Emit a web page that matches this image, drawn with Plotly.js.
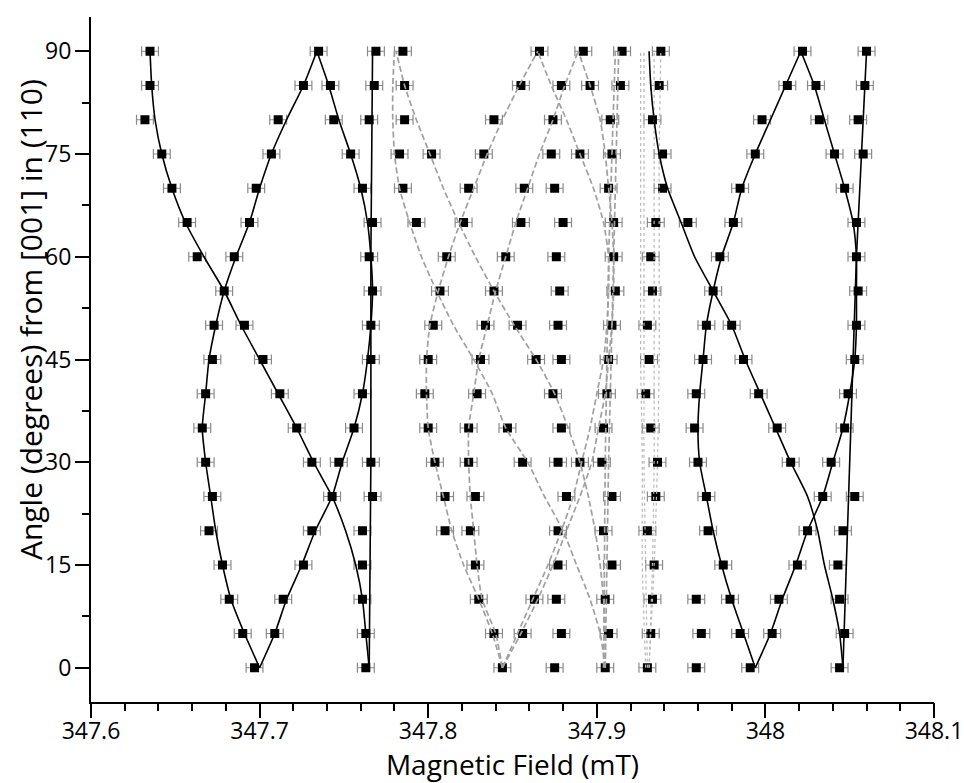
<!DOCTYPE html>
<html>
<head>
<meta charset="utf-8">
<script src="https://cdn.plot.ly/plotly-3.0.1.min.js"></script>
<style>html,body{margin:0;padding:0;background:#fff;}#chart{width:964px;height:783px;}</style>
</head>
<body>
<div id="chart"></div>
<script>
// ---- measured points (magnetic field in mT) for each rotation angle ----
const field0  = [347.697, 347.763, 347.844, 347.875, 347.905, 347.930, 347.959, 347.991, 348.044];
const field5  = [347.690, 347.709, 347.763, 347.839, 347.856, 347.879, 347.907, 347.932, 347.962, 347.985, 348.004, 348.047];
const field10 = [347.682, 347.714, 347.761, 347.830, 347.863, 347.876, 347.905, 347.933, 347.959, 347.979, 348.008, 348.044];
const field15 = [347.678, 347.726, 347.761, 347.828, 347.877, 347.909, 347.934, 347.975, 348.019, 348.043];
const field20 = [347.670, 347.731, 347.761, 347.810, 347.825, 347.877, 347.904, 347.930, 347.966, 348.025, 348.046];
const field25 = [347.672, 347.743, 347.767, 347.810, 347.828, 347.882, 347.909, 347.935, 347.965, 348.034, 348.053];
const field30 = [347.668, 347.731, 347.747, 347.766, 347.804, 347.824, 347.856, 347.877, 347.890, 347.903, 347.936, 347.960, 348.015, 348.039];
const field35 = [347.666, 347.722, 347.756, 347.800, 347.824, 347.847, 347.879, 347.904, 347.932, 347.958, 348.007, 348.047];
const field40 = [347.668, 347.712, 347.761, 347.798, 347.829, 347.874, 347.906, 347.929, 347.959, 347.996, 348.049];
const field45 = [347.672, 347.702, 347.766, 347.800, 347.831, 347.864, 347.879, 347.907, 347.931, 347.963, 347.987, 348.053];
const field50 = [347.673, 347.691, 347.766, 347.803, 347.834, 347.853, 347.877, 347.909, 347.930, 347.965, 347.980, 348.054];
const field55 = [347.679, 347.767, 347.807, 347.839, 347.878, 347.911, 347.933, 347.969, 348.055];
const field60 = [347.663, 347.685, 347.765, 347.811, 347.846, 347.876, 347.910, 347.932, 347.973, 348.054];
const field65 = [347.657, 347.694, 347.767, 347.793, 347.821, 347.855, 347.880, 347.910, 347.935, 347.954, 347.981, 348.054];
const field70 = [347.648, 347.698, 347.761, 347.785, 347.824, 347.857, 347.875, 347.907, 347.939, 347.985, 348.047];
const field75 = [347.642, 347.707, 347.754, 347.783, 347.802, 347.833, 347.873, 347.890, 347.909, 347.939, 347.994, 348.041, 348.058];
const field80 = [347.632, 347.711, 347.744, 347.765, 347.786, 347.839, 347.874, 347.908, 347.933, 347.998, 348.032, 348.055];
const field85 = [347.635, 347.726, 347.742, 347.768, 347.786, 347.855, 347.879, 347.896, 347.914, 347.937, 348.013, 348.030, 348.059];
const field90 = [347.635, 347.735, 347.769, 347.785, 347.866, 347.892, 347.915, 347.938, 348.022, 348.060];
const pointAngles = [0, 5, 10, 15, 20, 25, 30, 35, 40, 45, 50, 55, 60, 65, 70, 75, 80, 85, 90];
const fieldError = 0.005;

// ---- simulated branches (field in mT at curveAngles) ----
const curveAngles = [0, 5, 10, 15, 20, 25, 30, 35, 40, 45, 50, 55, 60, 65, 70, 75, 80, 85, 90];
const alphaL = [347.700, 347.709, 347.716, 347.725, 347.733, 347.743, 347.749, 347.756, 347.761, 347.764, 347.766, 347.767, 347.766, 347.764, 347.760, 347.754, 347.747, 347.741, 347.734];
const gammaL = [347.700, 347.691, 347.683, 347.678, 347.674, 347.671, 347.668, 347.666, 347.668, 347.670, 347.674, 347.679, 347.686, 347.694, 347.700, 347.707, 347.716, 347.726, 347.734];
const betaL  = [347.765, 347.763, 347.761, 347.757, 347.751, 347.743, 347.732, 347.722, 347.711, 347.700, 347.689, 347.679, 347.667, 347.656, 347.648, 347.642, 347.638, 347.636, 347.635];
const alphaR = [347.994, 348.003, 348.010, 348.018, 348.025, 348.034, 348.040, 348.046, 348.050, 348.053, 348.054, 348.054, 348.054, 348.052, 348.047, 348.041, 348.035, 348.029, 348.021];
const gammaR = [347.994, 347.987, 347.980, 347.974, 347.969, 347.965, 347.961, 347.960, 347.961, 347.963, 347.965, 347.969, 347.974, 347.981, 347.986, 347.994, 348.003, 348.012, 348.021];
const betaR  = [348.046, 348.044, 348.040, 348.035, 348.031, 348.025, 348.015, 348.006, 347.997, 347.988, 347.980, 347.969, 347.958, 347.950, 347.942, 347.937, 347.934, 347.932, 347.931];
const gammaA = [347.844, 347.838, 347.830, 347.821, 347.814, 347.809, 347.804, 347.800, 347.799, 347.799, 347.801, 347.806, 347.812, 347.819, 347.827, 347.835, 347.844, 347.854, 347.865];
const gammaB = [347.844, 347.840, 347.832, 347.829, 347.827, 347.825, 347.824, 347.824, 347.827, 347.830, 347.835, 347.840, 347.846, 347.852, 347.859, 347.866, 347.874, 347.881, 347.889];
const alphaA = [347.844, 347.853, 347.862, 347.871, 347.879, 347.886, 347.891, 347.896, 347.900, 347.904, 347.906, 347.907, 347.907, 347.904, 347.898, 347.890, 347.882, 347.873, 347.865];
const alphaB = [347.844, 347.855, 347.865, 347.874, 347.882, 347.890, 347.897, 347.901, 347.905, 347.907, 347.909, 347.910, 347.910, 347.909, 347.907, 347.905, 347.902, 347.896, 347.889];
const betaA  = [347.905, 347.905, 347.904, 347.902, 347.899, 347.895, 347.890, 347.883, 347.875, 347.864, 347.851, 347.839, 347.828, 347.818, 347.809, 347.801, 347.793, 347.786, 347.781];
const betaB  = [347.905, 347.902, 347.896, 347.888, 347.880, 347.869, 347.859, 347.846, 347.838, 347.827, 347.815, 347.805, 347.796, 347.789, 347.783, 347.780, 347.779, 347.779, 347.780];
const vertAngles = [0, 30, 60, 90];
const deltaL = [347.765, 347.766, 347.766, 347.767];
const deltaR = [348.046, 348.050, 348.054, 348.060];
const deltaA = [347.905, 347.907, 347.910, 347.913];
const deltaB = [347.904, 347.905, 347.907, 347.911];
const dotAngles = [0, 15, 30, 45, 60, 75, 90];
const dot1 = [347.929, 347.927, 347.927, 347.926, 347.926, 347.926, 347.926];
const dot2 = [347.930, 347.929, 347.928, 347.928, 347.928, 347.928, 347.928];
const dot3 = [347.931, 347.933, 347.934, 347.934, 347.934, 347.934, 347.934];
const dot4 = [347.931, 347.934, 347.936, 347.937, 347.937, 347.937, 347.938];

// ---- axes ----
const xTickVals = [347.6, 347.7, 347.8, 347.9, 348.0, 348.1];
const xTickText = ['347.6', '347.7', '347.8', '347.9', '348', '348.1'];
const yTickVals = [0, 15, 30, 45, 60, 75, 90];
const yTickText = ['0', '15', '30', '45', '60', '75', '90'];
const xRange = [347.6, 348.1];
const yRange = [-5, 95];
const xMinorStep = 0.02;
const yMinorStep = 7.5;

const xMinor = [];
for (let i = 0; i <= 25; i++) xMinor.push(+(xRange[0] + i * xMinorStep).toFixed(3));
const yMinor = [];
for (let v = 0; v <= 90; v += yMinorStep) yMinor.push(v);

const rows = [field0, field5, field10, field15, field20, field25, field30, field35, field40, field45,
              field50, field55, field60, field65, field70, field75, field80, field85, field90];
const px = [], py = [];
rows.forEach((r, i) => r.forEach(v => { px.push(v); py.push(pointAngles[i]); }));

const traces = [
  {x: [], y: [], xaxis: 'x2', yaxis: 'y2', type: 'scatter', mode: 'markers', hoverinfo: 'none'},
  {
    x: px, y: py, type: 'scatter', mode: 'markers',
    marker: {symbol: 'square', size: 9, color: '#000'},
    error_x: {type: 'constant', value: fieldError, color: '#8a8a8a', thickness: 1.2, width: 5},
    hoverinfo: 'none'
  }
];
function line(xs, ys, color, width, dash, shape) {
  traces.push({x: xs, y: ys, type: 'scatter', mode: 'lines',
    line: {color: color, width: width, dash: dash, shape: shape || 'spline', smoothing: 0.6}, hoverinfo: 'none'});
}
[gammaA, gammaB, alphaA, alphaB, betaA, betaB].forEach(c => line(c, curveAngles, '#a0a0a0', 1.7, '6px,3px'));
[deltaA, deltaB].forEach(c => line(c, vertAngles, '#a0a0a0', 1.7, '6px,3px', 'linear'));
[dot1, dot2, dot3, dot4].forEach(c => line(c, dotAngles, '#b8b8b8', 1.2, 'dot'));
[alphaL, gammaL, betaL, alphaR, gammaR, betaR].forEach(c => line(c, curveAngles, '#000', 1.6, 'solid'));
[deltaL, deltaR].forEach(c => line(c, vertAngles, '#000', 1.6, 'solid', 'linear'));

const layout = {
  width: 964, height: 783,
  margin: {l: 91, r: 30, t: 17, b: 81},
  paper_bgcolor: '#fff', plot_bgcolor: '#fff', showlegend: false,
  font: {family: 'Open Sans, sans-serif', color: '#000'},
  xaxis: {
    range: xRange, tickmode: 'array', tickvals: xTickVals, ticktext: xTickText,
    showline: true, linewidth: 2, linecolor: '#000',
    ticks: 'outside', ticklen: 14, tickwidth: 2, tickcolor: '#000', ticklabelstandoff: -7,
    showgrid: false, zeroline: false, tickfont: {size: 23, color: '#000'},
    title: {text: 'Magnetic Field (mT)', font: {size: 28, color: '#000'}, standoff: 5}
  },
  yaxis: {
    range: yRange, tickmode: 'array', tickvals: yTickVals, ticktext: yTickText,
    showline: true, linewidth: 2, linecolor: '#000',
    ticks: 'outside', ticklen: 14, tickwidth: 2, tickcolor: '#000', ticklabelstandoff: -1,
    showgrid: false, zeroline: false, tickfont: {size: 23, color: '#000'}
  },
  xaxis2: {
    range: xRange, overlaying: 'x', anchor: 'y2', side: 'bottom', tickmode: 'array', tickvals: xMinor,
    showticklabels: false, ticks: 'outside', ticklen: 8, tickwidth: 2, tickcolor: '#000',
    showline: false, showgrid: false, zeroline: false
  },
  yaxis2: {
    range: yRange, overlaying: 'y', anchor: 'x2', side: 'left', tickmode: 'array', tickvals: yMinor,
    showticklabels: false, ticks: 'outside', ticklen: 8, tickwidth: 2, tickcolor: '#000',
    showline: false, showgrid: false, zeroline: false
  },
  annotations: [{
    text: 'Angle (degrees) from [001] in (110)', xref: 'paper', yref: 'paper',
    x: -0.0724, y: 0.559, xanchor: 'center', yanchor: 'middle', textangle: -90,
    showarrow: false, font: {size: 30, color: '#000'}
  }]
};
Plotly.newPlot('chart', traces, layout, {displayModeBar: false, staticPlot: true});
</script>
</body>
</html>
